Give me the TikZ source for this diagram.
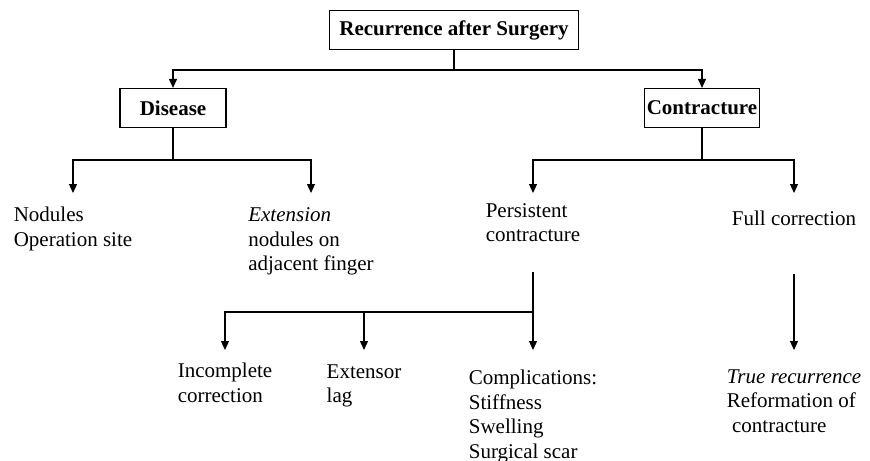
\documentclass[tikz,border=0pt]{standalone}
\usepackage{fontspec}
\setmainfont{Liberation Serif}
\usetikzlibrary{arrows.meta}

\tikzset{
	caixa/.style={draw, line width=0.6pt, font=\bfseries, minimum height=19.5pt, inner xsep=1pt},
	txt/.style={align=left, inner xsep=0pt, inner ysep=7pt, anchor=north},
	seta/.style={-{Triangle[length=4.5pt,width=4pt]}},
}

\begin{document}
\begin{tikzpicture}[x=0.5pt, y=-0.5pt, line width=0.6pt]
\fontsize{10.5}{12.25}\selectfont
\useasboundingbox (0,0) rectangle (870,460);

% Caixa principal
	\node[caixa, minimum width=124.5pt] (rec) at (454,30) {Recurrence after Surgery};
	\node[caixa, minimum width=53pt] (dis) at (173,108) {Disease};
	\node[caixa, minimum width=57.5pt] (con) at (702,108) {Contracture};

	\coordinate (j1) at (rec.south |- 0,70);
	\draw (rec) -- (j1);
	\foreach \n in {dis, con}
		\draw[seta] (j1) -| (\n);

% Doença
	\node[txt, inner ysep=6.8pt] (nod) at (73,193) {Nodules\\Operation site};
	\node[txt] (ext) at (311,193) {\textit{Extension}\\nodules on\\adjacent finger};

	\coordinate (j2) at (dis.south |- 0,160);
	\draw (dis) -- (j2);
	\foreach \n in {nod, ext}
		\draw[seta] (j2) -| (\n);

% Contratura
	\node[txt, inner ysep=4.8pt] (pers) at (533,193) {Persistent\\contracture};
	\node[txt, inner ysep=8.8pt] (full) at (794,193) {Full correction};

	\coordinate (j3) at (con.south |- 0,160);
	\draw (con) -- (j3);
	\foreach \n in {pers, full}
		\draw[seta] (j3) -| (\n);

% Contratura persistente
	\node[txt, inner ysep=6.3pt] (inc) at (225,350) {Incomplete\\correction};
	\node[txt] (exs) at (364,350) {Extensor\\lag};
	\node[txt, inner ysep=9.8pt] (comp) at (533,350) {Complications:\\Stiffness\\Swelling\\Surgical scar};

	\coordinate (j4) at (pers.south |- 0,312);
	\draw[shorten <=10pt] (pers) -- (j4);
	\foreach \n in {inc, exs, comp}
		\draw[seta] (j4) -| (\n);

% Correção total
	\node[txt, inner ysep=9.5pt] (true) at (794,350) {\textit{True recurrence}\\Reformation of\\\hspace*{0.25em}contracture};
	\draw[seta, shorten <=15pt] (full) -- (true);
\end{tikzpicture}
\end{document}
